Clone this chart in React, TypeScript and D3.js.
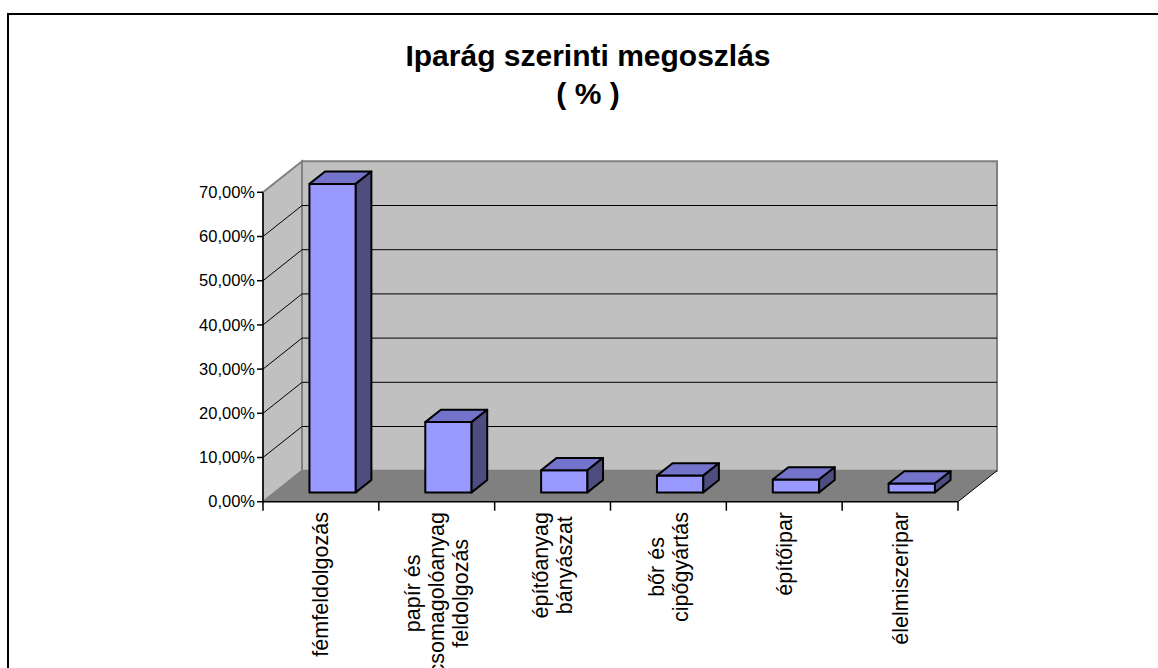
import { useEffect, useRef } from 'react'
import * as d3 from 'd3'

// categories (line breaks as in the original labels)
const categories = [
  'fémfeldolgozás',
  'papír és\ncsomagolóanyag\nfeldolgozás',
  'építőanyag\nbányászat',
  'bőr és\ncipőgyártás',
  'építőipar',
  'élelmiszeripar',
]
const shares = [69.8, 15.9, 5.0, 3.8, 2.9, 2.0]
const yTicks = [0, 10, 20, 30, 40, 50, 60, 70]
const titleLines = ['Iparág szerinti megoszlás', '( % )']

const FONT = '"Liberation Sans", Arial, Helvetica, sans-serif'

export default function App() {
  const svgRef = useRef<SVGSVGElement>(null)
  const width = 1158
  const height = 668

  useEffect(() => {
    if (!svgRef.current) return
    const svg = d3.select(svgRef.current)
    svg.selectAll('*').remove()

    // plot geometry
    const x0 = 263
    const x1 = 958
    const yBase = 501.7
    const yTop = 192.3
    const dx = 39
    const dy = -31

    const x = d3.scaleBand<string>().domain(categories).range([x0, x1])
    const y = d3.scaleLinear().domain([0, 70]).range([yBase, yTop])
    const band = x.bandwidth()
    const proj = (px: number, py: number, d: number): [number, number] => [px + d * dx, py + d * dy]
    const poly = (pts: [number, number][]) => 'M' + pts.map(p => p.join(',')).join('L') + 'Z'

    // frame
    svg.append('rect')
      .attr('x', 8).attr('y', 14)
      .attr('width', width + 20).attr('height', height + 20)
      .attr('fill', '#fff').attr('stroke', '#000').attr('stroke-width', 2)

    // title
    svg.append('g')
      .selectAll('text')
      .data(titleLines)
      .join('text')
      .attr('x', 588)
      .attr('y', (_, i) => 66 + i * 38)
      .attr('text-anchor', 'middle')
      .attr('font-family', FONT)
      .attr('font-weight', 'bold')
      .attr('font-size', 30)
      .attr('fill', '#000')
      .text(d => d)

    const g = svg.append('g')

    // side wall
    g.append('path')
      .attr('d', poly([[x0, yBase], [x0, yTop], proj(x0, yTop, 1), proj(x0, yBase, 1)]))
      .attr('fill', '#c0c0c0').attr('stroke', '#808080').attr('stroke-width', 2)

    // back wall
    g.append('path')
      .attr('d', poly([proj(x0, yTop, 1), proj(x1, yTop, 1), proj(x1, yBase, 1), proj(x0, yBase, 1)]))
      .attr('fill', '#c0c0c0').attr('stroke', '#808080').attr('stroke-width', 2)

    // floor
    g.append('path')
      .attr('d', poly([[x0, yBase], [x1, yBase], proj(x1, yBase, 1), proj(x0, yBase, 1)]))
      .attr('fill', '#808080')

    // gridlines on walls
    const grid = yTicks.filter(t => t > 0 && t < 70)
    g.selectAll('.grid-back')
      .data(grid)
      .join('line')
      .attr('class', 'grid-back')
      .attr('x1', x0 + dx).attr('x2', x1 + dx)
      .attr('y1', d => y(d) + dy).attr('y2', d => y(d) + dy)
      .attr('stroke', '#000').attr('stroke-width', 1)
    g.selectAll('.grid-side')
      .data(grid)
      .join('line')
      .attr('class', 'grid-side')
      .attr('x1', x0).attr('x2', x0 + dx)
      .attr('y1', d => y(d)).attr('y2', d => y(d) + dy)
      .attr('stroke', '#000').attr('stroke-width', 1)

    // floor edges
    g.append('line')
      .attr('x1', x0).attr('x2', x1).attr('y1', yBase).attr('y2', yBase)
      .attr('stroke', '#000').attr('stroke-width', 1.5)
    g.append('line')
      .attr('x1', x1).attr('y1', yBase).attr('x2', x1 + dx).attr('y2', yBase + dy)
      .attr('stroke', '#000').attr('stroke-width', 1)

    // y axis
    g.append('line')
      .attr('x1', x0).attr('x2', x0).attr('y1', yBase).attr('y2', yTop)
      .attr('stroke', '#000').attr('stroke-width', 1.5)
    g.selectAll('.ytick')
      .data(yTicks)
      .join('line')
      .attr('class', 'ytick')
      .attr('x1', x0 - 6).attr('x2', x0)
      .attr('y1', d => y(d)).attr('y2', d => y(d))
      .attr('stroke', '#000').attr('stroke-width', 1.5)
    g.selectAll('.ylabel')
      .data(yTicks)
      .join('text')
      .attr('class', 'ylabel')
      .attr('x', x0 - 8)
      .attr('y', d => y(d))
      .attr('dy', '0.35em')
      .attr('text-anchor', 'end')
      .attr('font-family', FONT)
      .attr('font-size', 16.5)
      .attr('fill', '#000')
      .text(d => d3.format('.2f')(d).replace('.', ',') + '%')

    // category ticks
    const bounds = categories.map(c => x(c)!).concat([x1])
    g.selectAll('.xtick')
      .data(bounds)
      .join('line')
      .attr('class', 'xtick')
      .attr('x1', d => d).attr('x2', d => d)
      .attr('y1', yBase).attr('y2', yBase + 9)
      .attr('stroke', '#000').attr('stroke-width', 1.5)

    // bars
    const d0 = 0.3
    const d1 = 0.7
    const bars = g.selectAll('.bar')
      .data(categories.map((c, i) => ({ c, v: shares[i] })))
      .join('g')
      .attr('class', 'bar')
      .attr('stroke', '#000')
      .attr('stroke-width', 2)
      .attr('stroke-linejoin', 'round')

    bars.append('path')
      .attr('fill', '#9999ff')
      .attr('d', d => {
        const bx0 = x(d.c)! + band * 0.3
        const bx1 = bx0 + band * 0.4
        return poly([proj(bx0, y(d.v), d0), proj(bx1, y(d.v), d0), proj(bx1, y(0), d0), proj(bx0, y(0), d0)])
      })
    bars.append('path')
      .attr('fill', '#7373cc')
      .attr('d', d => {
        const bx0 = x(d.c)! + band * 0.3
        const bx1 = bx0 + band * 0.4
        return poly([proj(bx0, y(d.v), d0), proj(bx1, y(d.v), d0), proj(bx1, y(d.v), d1), proj(bx0, y(d.v), d1)])
      })
    bars.append('path')
      .attr('fill', '#4d4d80')
      .attr('d', d => {
        const bx1 = x(d.c)! + band * 0.7
        return poly([proj(bx1, y(d.v), d0), proj(bx1, y(d.v), d1), proj(bx1, y(0), d1), proj(bx1, y(0), d0)])
      })

    // category labels, rotated, longest line ending just under the axis
    const lineH = 24
    categories.forEach(c => {
      const lines = c.split('\n')
      const cx = x(c)! + band / 2
      const lg = g.append('g').attr('transform', `translate(${cx},512) rotate(-90)`)
      const texts = lg.selectAll('text')
        .data(lines)
        .join('text')
        .attr('y', (_, i) => (i - (lines.length - 1) / 2) * lineH)
        .attr('dy', '0.35em')
        .attr('text-anchor', 'middle')
        .attr('font-family', FONT)
        .attr('font-size', 21.5)
        .attr('fill', '#000')
        .text(d => d)
      let maxW = 0
      texts.each(function () {
        maxW = Math.max(maxW, (this as SVGTextElement).getComputedTextLength())
      })
      texts.attr('x', -maxW / 2)
    })
  }, [])

  return (
    <svg
      ref={svgRef}
      width={width}
      height={height}
      style={{ position: 'absolute', left: 0, top: 0, background: '#fff' }}
    />
  )
}
